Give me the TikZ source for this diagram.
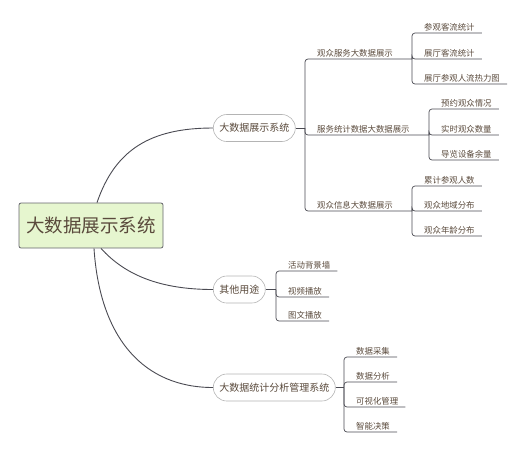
\documentclass[tikz,border=0pt]{standalone}
\usepackage{fontspec}
\newfontfamily\cjk{Noto Sans CJK SC}
\usepackage{xcolor}
\usetikzlibrary{positioning}
\definecolor{INK}{HTML}{5A4A3C}
\definecolor{LINE}{HTML}{4A4A52}
\definecolor{RIM}{HTML}{B4B4B4}
\definecolor{ROOT}{HTML}{E6F6CF}

\begin{document}
\begin{tikzpicture}[
    x=1pt, y=-1pt,
    font=\cjk,
    root/.style={draw=LINE!85, fill=ROOT, line width=0.8pt, rounded corners=2pt, minimum width=144pt, minimum height=45pt, inner sep=0pt, text=INK, font=\cjk\fontsize{18.5}{20}\selectfont},
    topic/.style={draw=RIM, fill=white, line width=0.6pt, rounded corners=13.5pt, minimum height=27pt, inner xsep=6pt, anchor=west, text=INK, font=\cjk\fontsize{10}{12}\selectfont},
    sub/.style={anchor=south west, inner xsep=7pt, inner ysep=1.5pt, text=INK, font=\cjk\fontsize{8.4}{10}\selectfont},
    ln/.style={draw=LINE, line width=0.7pt, rounded corners=3pt},
    curve/.style={draw=LINE, line width=0.9pt},
  ]
  \useasboundingbox (0,0) rectangle (522,451);

  % ===== root and main topics =====
  \node[root] (root) at (91,225.5) {大数据展示系统};
  \node[topic] (t1) at (213,128) {大数据展示系统};
  \node[topic] (t2) at (213,289.5) {其他用途};
  \node[topic] (t3) at (213,387.5) {大数据统计分析管理系统};

  \draw[curve] ([xshift=6pt]root.north) .. controls (115,150) and (150,128) .. (t1.west);
  \draw[curve] ([xshift=10pt]root.south) .. controls (125,275) and (160,289.5) .. (t2.west);
  \draw[curve] ([xshift=3pt]root.south) .. controls (100,340) and (145,387.5) .. (t3.west);

  % ===== branch 1 =====
  \coordinate (j1) at (305,128);
  \coordinate (k11) at (412,59);
  \coordinate (k12) at (429,135);
  \coordinate (k13) at (412,211);
  \draw[ln] (t1.east) -- (j1);
  \foreach \k in {k11,k12,k13}
    \draw[ln] (j1) |- (\k);
  \node[sub] (s11) at (310,59) {观众服务大数据展示};
  \node[sub] (s12) at (310,135) {服务统计数据大数据展示};
  \node[sub] (s13) at (310,211) {观众信息大数据展示};

  \foreach \y/\txt [count=\i] in {33/参观客流统计,59/展厅客流统计,84/展厅参观人流热力图} {
    \node[sub] (a\i) at (417,\y) {\txt};
    \draw[ln] (k11) |- (a\i.south east);
  }
  \foreach \y/\txt [count=\i] in {109/预约观众情况,135/实时观众数量,160/导览设备余量} {
    \node[sub] (b\i) at (434,\y) {\txt};
    \draw[ln] (k12) |- (b\i.south east);
  }
  \foreach \y/\txt [count=\i] in {186/累计参观人数,211/观众地域分布,236/观众年龄分布} {
    \node[sub] (c\i) at (417,\y) {\txt};
    \draw[ln] (k13) |- (c\i.south east);
  }

  % ===== branch 2 =====
  \coordinate (j2) at (276,289.5);
  \draw[ln] (t2.east) -- (j2);
  \foreach \y/\txt [count=\i] in {271/活动背景墙,297/视频播放,321/图文播放} {
    \node[sub] (d\i) at (281,\y) {\txt};
    \draw[ln] (j2) |- (d\i.south east);
  }

  % ===== branch 3 =====
  \coordinate (j3) at (344,387.5);
  \draw[ln] (t3.east) -- (j3);
  \foreach \y/\txt [count=\i] in {357/数据采集,382/数据分析,407/可视化管理,432/智能决策} {
    \node[sub] (e\i) at (349,\y) {\txt};
    \draw[ln] (j3) |- (e\i.south east);
  }

\end{tikzpicture}
\end{document}
